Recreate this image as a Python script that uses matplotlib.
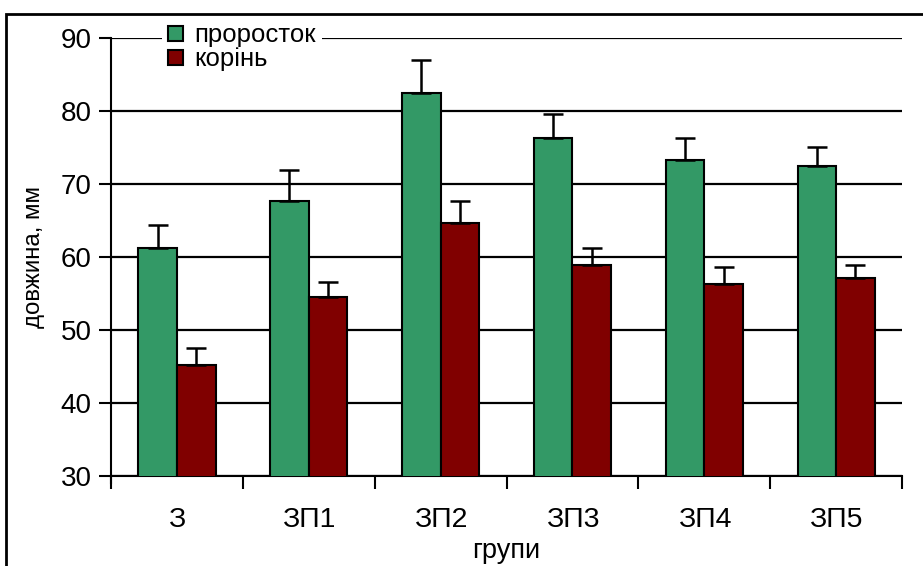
import numpy as np
import matplotlib.pyplot as plt
from matplotlib.patches import Rectangle

plt.rcParams['font.family'] = ['Liberation Sans', 'DejaVu Sans']

# data
groups = ['З', 'ЗП1', 'ЗП2', 'ЗП3', 'ЗП4', 'ЗП5']
sprout = [61.3, 67.7, 82.5, 76.4, 73.3, 72.5]
sprout_err = [3.1, 4.3, 4.6, 3.3, 3.1, 2.6]
root = [45.2, 54.6, 64.7, 59.0, 56.3, 57.1]
root_err = [2.3, 2.0, 3.0, 2.3, 2.3, 1.8]

green = '#339966'
red = '#800000'

fig = plt.figure(figsize=(9.23, 5.66), dpi=100)
ax = fig.add_axes([0.1203, 0.159, 0.857, 0.773])

# frame around the chart (cut off at right and bottom like the source)
fig.patches.append(Rectangle((6 / 923, -0.1), 1.2, 1.1 - 14 / 566, transform=fig.transFigure,
                             fill=False, edgecolor='black', linewidth=2, zorder=0))

x = np.arange(len(groups)) + 0.5
w = 0.293
err_kw = dict(ecolor='black', elinewidth=1.8, capsize=7, capthick=1.8)
ax.bar(x - w / 2, sprout, w, color=green, edgecolor='black', linewidth=1.5,
       yerr=[np.zeros(len(groups)), sprout_err], error_kw=err_kw, label='проросток', zorder=3)
ax.bar(x + w / 2, root, w, color=red, edgecolor='black', linewidth=1.5,
       yerr=[np.zeros(len(groups)), root_err], error_kw=err_kw, label='корінь', zorder=3)

ax.set_xlim(0, len(groups))
ax.set_ylim(30, 90)
ax.set_yticks(range(30, 91, 10))
ax.yaxis.grid(True, color='black', linewidth=1.6)
ax.set_axisbelow(True)

ax.set_xticks(range(len(groups) + 1))
ax.set_xticklabels([])
ax.set_xticks(x, minor=True)
ax.set_xticklabels(groups, minor=True)
ax.tick_params(axis='x', which='major', direction='out', length=9, width=1.5)
ax.tick_params(axis='x', which='minor', length=0, pad=22, labelsize=20.5)
ax.tick_params(axis='y', direction='out', length=9, width=1.5, labelsize=20, pad=5)

for s in ['top', 'right']:
    ax.spines[s].set_visible(False)
for s in ['left', 'bottom']:
    ax.spines[s].set_linewidth(1.5)
ax.spines['left'].set_bounds(30 - 0.95, 90)

ax.set_xlabel('групи', fontsize=19.5, labelpad=4)
ax.set_ylabel('довжина, мм', fontsize=17.3, labelpad=11)

leg = ax.legend(loc='upper left', bbox_to_anchor=(162 / 923, 1 - 17 / 566),
                bbox_transform=fig.transFigure, fontsize=18.5, frameon=True,
                edgecolor='none', facecolor='white', framealpha=1, fancybox=False,
                handlelength=0.56, handleheight=0.5, handletextpad=0.45,
                labelspacing=0.0, borderpad=0.25, borderaxespad=0)
leg.set_zorder(5)
for h in leg.legend_handles:
    h.set_linewidth(1.5)

fig.savefig('out.png', dpi=100)
